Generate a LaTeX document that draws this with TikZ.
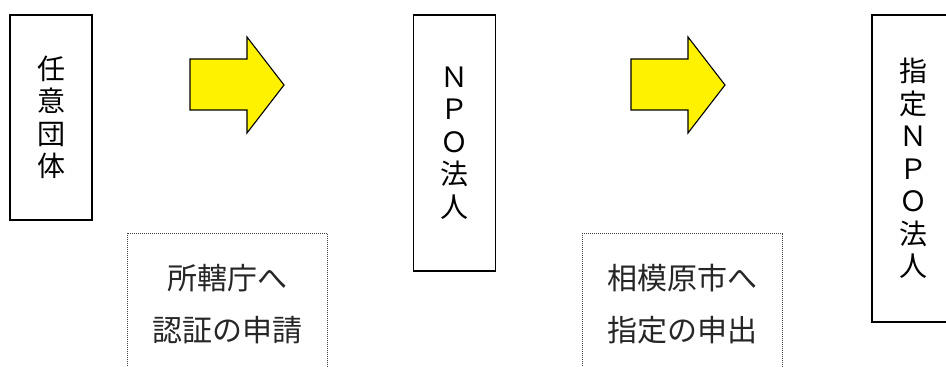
\documentclass[tikz,border=0pt]{standalone}
\usepackage{fontspec}
\newfontfamily\jp{Noto Sans CJK JP}
\begin{document}
\begin{tikzpicture}[x=1pt,y=1pt,
  stage/.style={draw=black, line width=1.3pt, minimum width=82pt, inner sep=0pt},
  vtext/.style={font=\jp\fontsize{28}{32.5}\selectfont, align=center, inner sep=0pt},
  note/.style={draw=black!75, dash pattern=on 1pt off 1pt, line width=1pt, minimum width=200pt, minimum height=142pt, inner sep=0pt},
  ntext/.style={font=\jp\fontsize{30}{52}\selectfont, align=center, inner sep=0pt, text=black!85},
  bigarrow/.style={draw=black, line width=1.1pt, fill=yellow, line join=miter}]
\useasboundingbox (0,0) rectangle (946,-367);
\fill[white] (0,0) rectangle (946,-367);
% stages
\node[stage, minimum height=205pt] (s1) at (51,-117.5) {};
\node[vtext] (t1) at (s1.center) {任\\意\\団\\体};
\node[stage, minimum height=256pt] (s2) at (454.5,-143) {};
\node[vtext] (t2) at (s2.center) {Ｎ\\Ｐ\\Ｏ\\法\\人};
\node[stage, minimum height=307pt] (s3) at (913,-168.5) {};
\node[vtext] (t3) at (s3.center) {指\\定\\Ｎ\\Ｐ\\Ｏ\\法\\人};
% block arrows
\draw[bigarrow] (190,-59) -- (247,-59) -- (247,-37) -- (284,-85) -- (247,-133) -- (247,-110) -- (190,-110) -- cycle;
\draw[bigarrow] (631,-59) -- (688,-59) -- (688,-37) -- (725,-85) -- (688,-133) -- (688,-110) -- (631,-110) -- cycle;
% notes
\node[note] (n1) at (227,-304) {};
\node[ntext] (m1) at (227,-304) {所轄庁へ\\認証の申請};
\node[note] (n2) at (682.5,-304) {};
\node[ntext] (m2) at (682.5,-304) {相模原市へ\\指定の申出};
\end{tikzpicture}
\end{document}
